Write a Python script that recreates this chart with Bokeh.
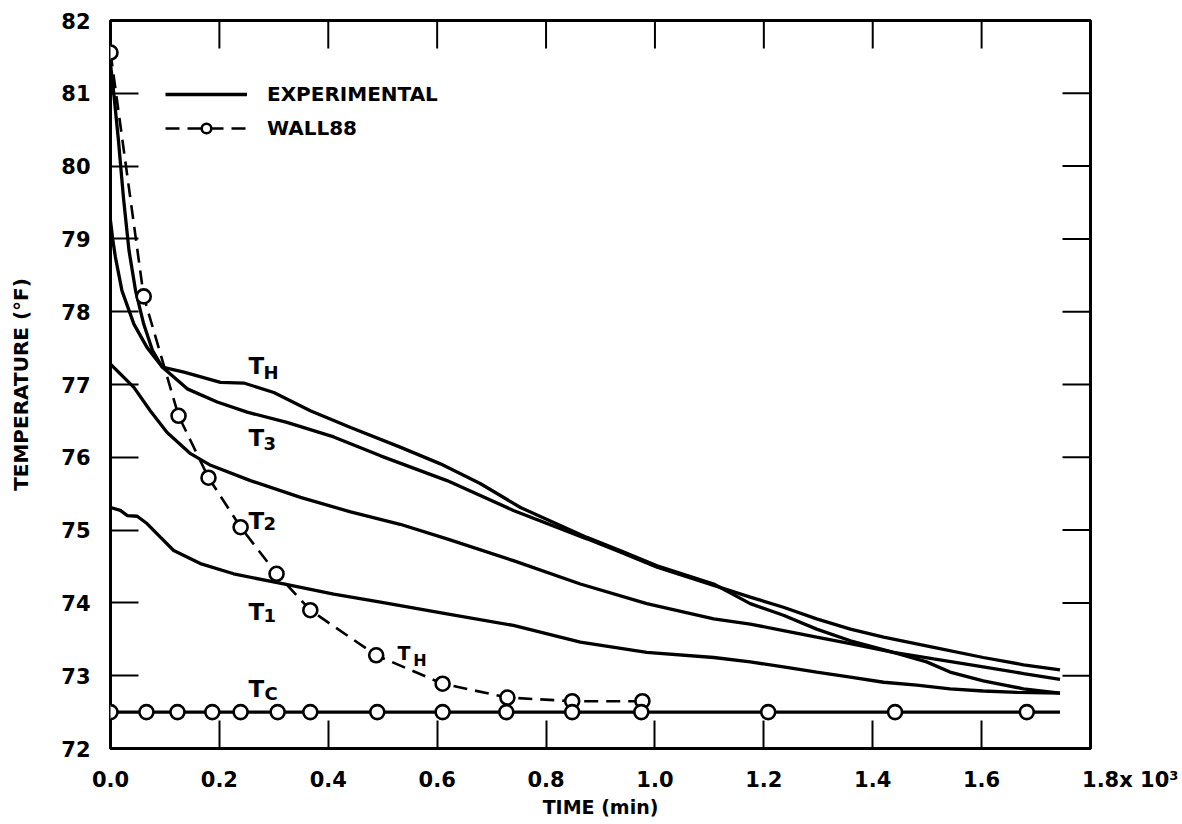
from bokeh.plotting import figure
from bokeh.models import (Range1d, FixedTicker, Label, Legend,
                          LegendItem, PrintfTickFormatter)
from bokeh.embed import file_html
from bokeh.resources import INLINE

FONT = "DejaVu Sans"

# ---------------- data (time in 10^3 min, temperature in F) ----------------
x_ticks = [0.0, 0.2, 0.4, 0.6, 0.8, 1.0, 1.2, 1.4, 1.6, 1.8]
x_tick_labels = ["0.0", "0.2", "0.4", "0.6", "0.8", "1.0", "1.2", "1.4",
                 "1.6", "\u00a0" * 11 + "1.8x 10\u00b3"]
y_ticks = [72, 73, 74, 75, 76, 77, 78, 79, 80, 81, 82]

th_t = [0.0, 0.006, 0.014, 0.024, 0.034, 0.046, 0.061, 0.077, 0.095, 0.135,
        0.202, 0.245, 0.300, 0.367, 0.441, 0.532, 0.606, 0.679, 0.753, 0.875,
        0.936, 1.004, 1.108, 1.175, 1.236, 1.297, 1.359, 1.438, 1.499, 1.542,
        1.603, 1.677, 1.744]
th_v = [81.40, 81.00, 80.40, 79.55, 78.84, 78.29, 77.83, 77.47, 77.24, 77.17,
        77.03, 77.02, 76.89, 76.64, 76.41, 76.14, 75.91, 75.64, 75.31, 74.90,
        74.72, 74.51, 74.26, 73.99, 73.83, 73.64, 73.48, 73.32, 73.19, 73.05,
        72.93, 72.82, 72.76]

t3_t = [0.0, 0.004, 0.009, 0.021, 0.043, 0.067, 0.095, 0.141, 0.196, 0.251,
        0.324, 0.410, 0.496, 0.618, 0.740, 0.875, 0.936, 1.004, 1.108, 1.175,
        1.236, 1.297, 1.359, 1.420, 1.512, 1.603, 1.677, 1.744]
t3_v = [79.25, 79.00, 78.75, 78.29, 77.83, 77.51, 77.24, 76.94, 76.76, 76.62,
        76.48, 76.28, 76.02, 75.68, 75.27, 74.88, 74.70, 74.49, 74.24, 74.08,
        73.94, 73.78, 73.64, 73.53, 73.39, 73.25, 73.15, 73.08]

t2_t = [0.0, 0.043, 0.073, 0.104, 0.147, 0.184, 0.257, 0.349, 0.441, 0.532,
        0.618, 0.740, 0.863, 0.985, 1.108, 1.175, 1.236, 1.297, 1.359, 1.438,
        1.512, 1.603, 1.677, 1.744]
t2_v = [77.28, 76.96, 76.64, 76.34, 76.05, 75.89, 75.68, 75.45, 75.25, 75.08,
        74.88, 74.58, 74.26, 73.99, 73.78, 73.71, 73.62, 73.53, 73.44, 73.32,
        73.23, 73.12, 73.03, 72.95]

t1_t = [0.0, 0.018, 0.031, 0.049, 0.067, 0.092, 0.116, 0.165, 0.226, 0.318,
        0.410, 0.496, 0.618, 0.740, 0.863, 0.985, 1.108, 1.175, 1.236, 1.297,
        1.359, 1.420, 1.481, 1.542, 1.603, 1.665, 1.744]
t1_v = [75.31, 75.27, 75.20, 75.19, 75.09, 74.90, 74.72, 74.54, 74.40, 74.26,
        74.12, 74.01, 73.85, 73.69, 73.46, 73.32, 73.25, 73.19, 73.12, 73.05,
        72.98, 72.91, 72.87, 72.82, 72.79, 72.77, 72.76]

tc_line_t = [0.0, 1.744]
tc_line_v = [72.5, 72.5]
tc_pts_t = [0.0, 0.066, 0.123, 0.187, 0.239, 0.307, 0.367, 0.490, 0.610,
            0.727, 0.848, 0.975, 1.208, 1.441, 1.683]
tc_pts_v = [72.5] * len(tc_pts_t)

wall_t = [0.0, 0.061, 0.125, 0.180, 0.239, 0.305, 0.367, 0.488, 0.610,
          0.729, 0.848, 0.977]
wall_v = [81.56, 78.21, 76.57, 75.72, 75.04, 74.40, 73.90, 73.28, 72.89,
          72.70, 72.65, 72.65]

# ---------------- figure ----------------
X0, X1, Y0, Y1 = 0.0, 1.8, 72.0, 82.0
FW, FH = 980, 728
TICK = 28

p = figure(frame_width=FW, frame_height=FH,
           x_range=Range1d(X0, X1), y_range=Range1d(Y0, Y1),
           output_backend="svg", toolbar_location=None,
           min_border_left=110, min_border_right=88,
           min_border_top=20, min_border_bottom=74)
p.xgrid.visible = False
p.ygrid.visible = False
p.outline_line_color = "black"
p.outline_line_width = 3
p.outline_line_alpha = 1.0
p.background_fill_color = "white"
p.border_fill_color = "white"


def style_axis(ax, ticks, fmt):
    ax.ticker = FixedTicker(ticks=ticks, minor_ticks=[])
    ax.formatter = PrintfTickFormatter(format=fmt)
    ax.major_tick_in = TICK
    ax.major_tick_out = 0
    ax.minor_tick_in = 0
    ax.minor_tick_out = 0
    ax.major_tick_line_width = 2
    ax.major_tick_line_color = "black"
    ax.axis_line_color = None
    ax.major_label_text_font = FONT
    ax.major_label_text_font_style = "bold"
    ax.major_label_text_font_size = "21px"
    ax.major_label_text_color = "black"
    ax.axis_label_text_font = FONT
    ax.axis_label_text_font_style = "bold"
    ax.axis_label_text_color = "black"


xb = p.xaxis[0]
style_axis(xb, x_ticks, "%.1f")
xb.major_label_overrides = {t: s for t, s in zip(x_ticks, x_tick_labels)}
xb.major_label_standoff = 19
xb.axis_label = "TIME (min)"
xb.axis_label_text_font_size = "19px"
xb.axis_label_standoff = 1

yl = p.yaxis[0]
style_axis(yl, y_ticks, "%d")
yl.major_label_standoff = 20
yl.axis_label = "TEMPERATURE (°F)"
yl.axis_label_text_font_size = "20px"
yl.axis_label_standoff = 25

# inward ticks on the top and right edges of the frame
top_x = x_ticks[1:-1]
p.segment(x0=top_x, y0=[Y1] * len(top_x), x1=top_x,
          y1=[Y1 - TICK * (Y1 - Y0) / FH] * len(top_x),
          line_color="black", line_width=2)
right_y = y_ticks[1:-1]
p.segment(x0=[X1] * len(right_y), y0=right_y,
          x1=[X1 - TICK * (X1 - X0) / FW] * len(right_y), y1=right_y,
          line_color="black", line_width=2)

# ---------------- curves ----------------
LW = 3.3
r_th = p.line(th_t, th_v, line_color="black", line_width=LW)
p.line(t3_t, t3_v, line_color="black", line_width=LW)
p.line(t2_t, t2_v, line_color="black", line_width=LW)
p.line(t1_t, t1_v, line_color="black", line_width=LW)
p.line(tc_line_t, tc_line_v, line_color="black", line_width=LW)

r_wl = p.line(wall_t, wall_v, line_color="black", line_width=2.6,
              line_dash="14 8")
r_wc = p.scatter(wall_t, wall_v, marker="circle", size=14,
                 fill_color="white", line_color="black", line_width=2.6)
p.scatter(tc_pts_t, tc_pts_v, marker="circle", size=14,
          fill_color="white", line_color="black", line_width=2.6)

# ---------------- legend ----------------
legend = Legend(items=[LegendItem(label="EXPERIMENTAL", renderers=[r_th]),
                       LegendItem(label="WALL88", renderers=[r_wl, r_wc])],
                location=(55, 608), orientation="vertical",
                glyph_width=82, glyph_height=24, label_height=24,
                label_standoff=20, spacing=10, padding=0, margin=0,
                border_line_alpha=0, background_fill_alpha=0,
                label_text_font=FONT, label_text_font_style="bold",
                label_text_font_size="20px", label_text_color="black")
p.add_layout(legend, "center")


# ---------------- curve labels ----------------
def tlabel(x, y, xs, ys, sub, big="23px", small="18px"):
    p.add_layout(Label(x=x, y=y, text="T", text_font=FONT,
                       text_font_style="bold", text_font_size=big,
                       text_color="black", text_baseline="alphabetic",
                       text_align="left"))
    p.add_layout(Label(x=xs, y=ys, text=sub, text_font=FONT,
                       text_font_style="bold", text_font_size=small,
                       text_color="black", text_baseline="alphabetic",
                       text_align="left"))


tlabel(0.2534, 77.26, 0.281, 77.165, "H")
tlabel(0.2534, 76.27, 0.281, 76.19, "3")
tlabel(0.2534, 75.13, 0.281, 75.09, "2")
tlabel(0.2534, 73.87, 0.281, 73.83, "1")
tlabel(0.2534, 72.82, 0.283, 72.755, "C")
tlabel(0.527, 73.305, 0.556, 73.21, "H", big="19px", small="16px")

open("out.html", "w").write(file_html(p, INLINE))
